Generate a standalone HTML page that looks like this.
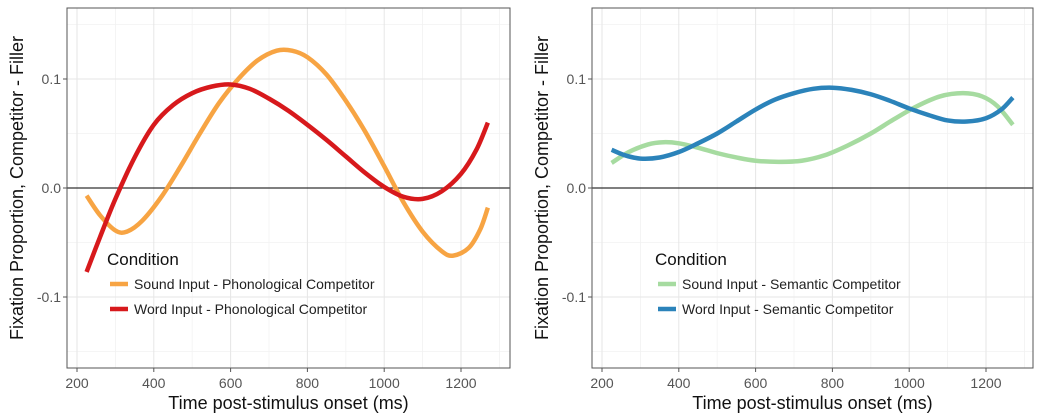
<!DOCTYPE html>
<html><head><meta charset="utf-8">
<style>
html,body{margin:0;padding:0;background:#fff;}
svg{display:block;font-family:"Liberation Sans",Arial,sans-serif;}
</style></head>
<body>
<svg id="chart" width="1050" height="414" viewBox="0 0 1050 414"></svg>
<script>
const xTicks = [200,400,600,800,1000,1200];
const yTicks = [-0.1,0.0,0.1];
const yTickLabels = ["-0.1","0.0","0.1"];
const timeL = [225,260,300,330,370,420,470,520,570,620,670,720,760,800,850,900,950,1000,1050,1100,1150,1180,1220,1250,1270];
const soundPhon = [-0.007,-0.025,-0.039,-0.040,-0.030,-0.008,0.020,0.050,0.078,0.100,0.117,0.126,0.126,0.120,0.104,0.080,0.052,0.020,-0.013,-0.040,-0.058,-0.062,-0.055,-0.038,-0.018];
const timeR = [225,260,300,350,400,450,500,550,600,650,700,750,800,850,900,950,1000,1050,1100,1150,1200,1240,1270];
const wordPhon = [-0.077,-0.045,-0.010,0.028,0.058,0.076,0.087,0.093,0.095,0.091,0.082,0.071,0.058,0.044,0.029,0.014,0.001,-0.008,-0.010,-0.003,0.013,0.035,0.060];
const timeG = [225,270,320,360,400,450,500,550,600,660,720,780,840,900,960,1020,1080,1140,1190,1230,1270];
const soundSem = [0.023,0.033,0.040,0.042,0.041,0.037,0.032,0.028,0.025,0.024,0.025,0.030,0.039,0.050,0.063,0.075,0.084,0.087,0.084,0.075,0.058];
const timeB = [225,260,300,350,400,450,500,550,600,650,700,750,800,850,900,950,1000,1050,1100,1150,1200,1240,1270];
const wordSem = [0.035,0.030,0.027,0.028,0.033,0.041,0.050,0.061,0.072,0.081,0.087,0.091,0.092,0.090,0.086,0.080,0.073,0.067,0.062,0.061,0.064,0.072,0.083];

const NS="http://www.w3.org/2000/svg";
const svg=document.getElementById('chart');
function mk(tag,attrs,parent){const e=document.createElementNS(NS,tag);for(const k in attrs)e.setAttribute(k,attrs[k]);(parent||svg).appendChild(e);return e;}

function smooth(pts){
  let d=`M${pts[0][0]},${pts[0][1]}`;
  for(let i=0;i<pts.length-1;i++){
    const p0=pts[Math.max(0,i-1)],p1=pts[i],p2=pts[i+1],p3=pts[Math.min(pts.length-1,i+2)];
    const c1=[p1[0]+(p2[0]-p0[0])/6,p1[1]+(p2[1]-p0[1])/6];
    const c2=[p2[0]-(p3[0]-p1[0])/6,p2[1]-(p3[1]-p1[1])/6];
    d+=` C${c1[0]},${c1[1]} ${c2[0]},${c2[1]} ${p2[0]},${p2[1]}`;
  }
  return d;
}

function panel(px, pl, pr, tick200, series, legend, name){
  const g=mk('g',{});
  
  
  const top=8,bot=368;
  const xs=v=>tick200+(v-200)*0.384;
  const ys=v=>188-v*1090;
  mk('rect',{x:pl,y:top,width:pr-pl,height:bot-top,fill:'#fff'},g);
  for(let v=300;v<=1300;v+=200){const x=xs(v);if(x<pr)mk('line',{x1:x,x2:x,y1:top,y2:bot,stroke:'#f2f2f2','stroke-width':0.8},g);}
  [-0.15,-0.05,0.05,0.15].forEach(v=>mk('line',{x1:pl,x2:pr,y1:ys(v),y2:ys(v),stroke:'#f2f2f2','stroke-width':0.8},g));
  xTicks.forEach(v=>mk('line',{x1:xs(v),x2:xs(v),y1:top,y2:bot,stroke:'#e6e6e6','stroke-width':1},g));
  yTicks.forEach(v=>mk('line',{x1:pl,x2:pr,y1:ys(v),y2:ys(v),stroke:'#e6e6e6','stroke-width':1},g));
  const zl=mk('line',{x1:pl,x2:pr,y1:ys(0),y2:ys(0),stroke:'#333','stroke-width':1.2},g);
  
  
  series.forEach(s=>{
    const pts=s.t.map((t,i)=>[xs(t),ys(s.v[i])]);
    const p=mk('path',{d:smooth(pts),fill:'none',stroke:s.c,'stroke-width':4.5,'stroke-linecap':'butt'},g);
    
    
  });
  mk('rect',{x:pl,y:top,width:pr-pl,height:bot-top,fill:'none',stroke:'#555','stroke-width':1},g);
  xTicks.forEach(v=>{
    mk('line',{x1:xs(v),x2:xs(v),y1:bot,y2:bot+4,stroke:'#555'},g);
    const t=mk('text',{x:xs(v),y:bot+20,'text-anchor':'middle','font-size':14,fill:'#555'},g);t.textContent=v;
    
    
  });
  yTicks.forEach((v,i)=>{
    mk('line',{x1:pl-4,x2:pl,y1:ys(v),y2:ys(v),stroke:'#555'},g);
    const t=mk('text',{x:pl-6,y:ys(v)+5,'text-anchor':'end','font-size':14,fill:'#555'},g);t.textContent=yTickLabels[i];
    
    
  });
  const xt=mk('text',{x:(pl+pr)/2,y:409,'text-anchor':'middle','font-size':18,fill:'#111'},g);
  xt.textContent='Time post-stimulus onset (ms)';
  
  
  const yt=mk('text',{x:0,y:0,'text-anchor':'middle','font-size':18,fill:'#111',transform:`translate(${px+23},${(top+bot)/2}) rotate(-90)`},g);
  yt.textContent='Fixation Proportion, Competitor - Filler';
  
  
  const lg=mk('g',{},g);
  
  
  const lt=mk('text',{x:legend.x,y:265,'font-size':17,fill:'#111'},lg);lt.textContent='Condition';
  
  
  series.forEach((s,i)=>{
    const y=284+i*25;
    mk('line',{x1:legend.x+3,x2:legend.x+21,y1:y,y2:y,stroke:s.c,'stroke-width':4.5},lg);
    const t=mk('text',{x:legend.x+27,y:y+5,'font-size':14,fill:'#222'},lg);t.textContent=s.label;
    
    
  });
}

panel(0,67,510,77,[
  {t:timeL,v:soundPhon,c:'#f7a443',n:'sound-phonological-line',label:'Sound Input - Phonological Competitor'},
  {t:timeR,v:wordPhon,c:'#d7191c',n:'word-phonological-line',label:'Word Input - Phonological Competitor'}
],{x:107},'left-panel');
panel(525,592,1033,602,[
  {t:timeG,v:soundSem,c:'#a6dba0',n:'sound-semantic-line',label:'Sound Input - Semantic Competitor'},
  {t:timeB,v:wordSem,c:'#2b83ba',n:'word-semantic-line',label:'Word Input - Semantic Competitor'}
],{x:655},'right-panel');
</script>
</body></html>
